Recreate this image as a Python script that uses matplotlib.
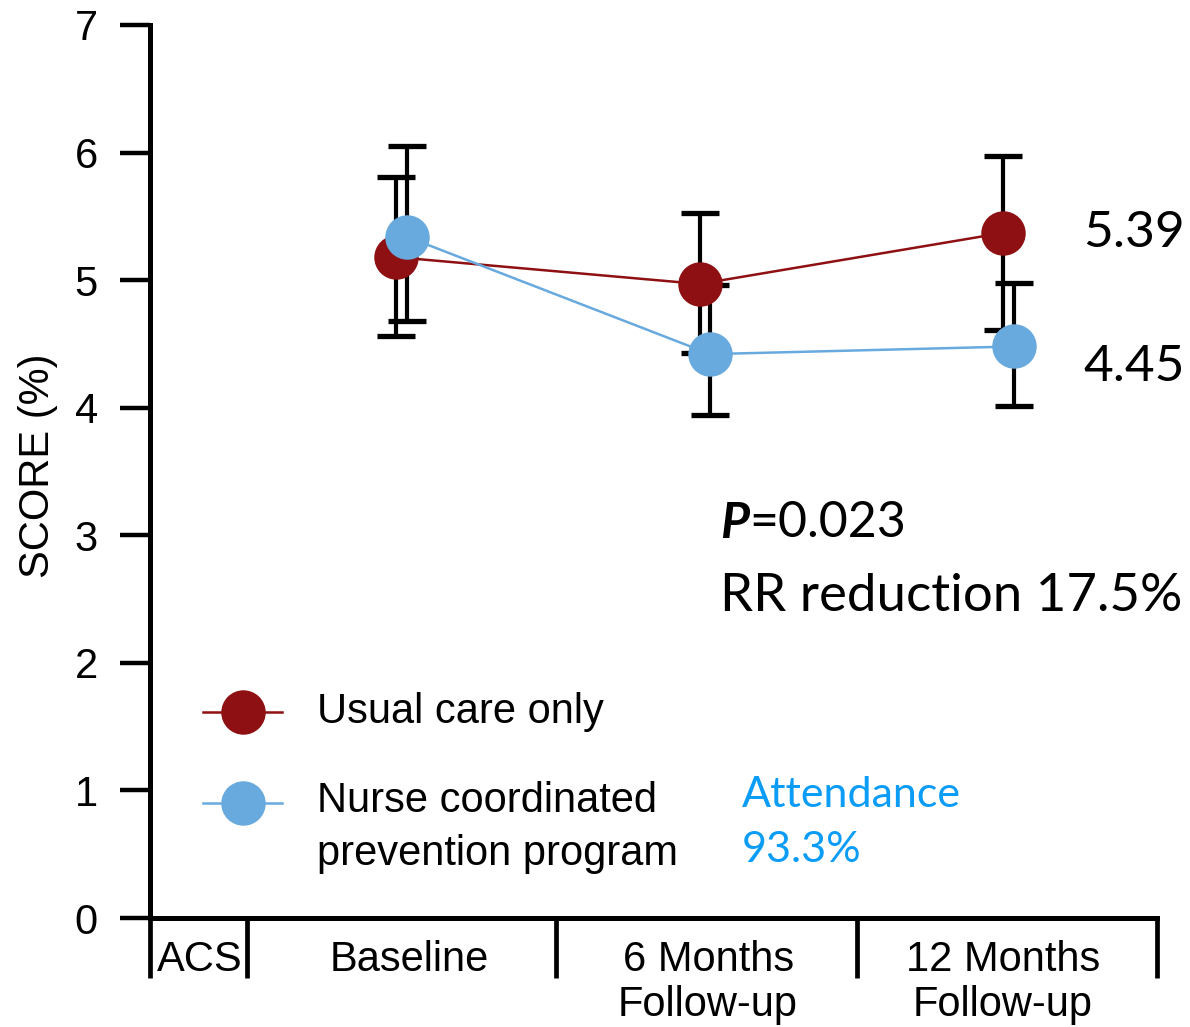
import matplotlib
matplotlib.use("Agg")
import matplotlib.pyplot as plt
import numpy as np

# ---------------- data ----------------
categories = ["ACS", "Baseline", "6 Months\nFollow-up", "12 Months\nFollow-up"]
yticks = [0, 1, 2, 3, 4, 5, 6, 7]

usual_mean = [5.18, 4.97, 5.37]
usual_upper = [5.81, 5.53, 5.97]
usual_lower = [4.56, 4.43, 4.61]

nurse_mean = [5.34, 4.42, 4.48]
nurse_upper = [6.05, 4.96, 4.98]
nurse_lower = [4.68, 3.94, 4.01]

label_usual = "Usual care only"
label_nurse_1 = "Nurse coordinated"
label_nurse_2 = "prevention program"
end_usual = "5.39"
end_nurse = "4.45"
p_text = "=0.023"
rr_text = "RR reduction 17.5%"
attendance = ["Attendance", "93.3%"]

# ---------------- style ----------------
RED = "#8E1012"
BLUE = "#68A9DE"
ATT = "#0A9CF7"
SANS = ["Liberation Sans", "DejaVu Sans"]
CAL = ["Lato", "DejaVu Sans"]

fig = plt.figure(figsize=(11.9, 10.27), dpi=100)
ax = fig.add_axes([150 / 1190, 109 / 1027, 1007 / 1190, 893 / 1027])

xc = np.array([0.5, 1.5, 2.5])
x_red = xc - 0.008
x_blue = xc + 0.027

um = np.array(usual_mean)
nm = np.array(nurse_mean)
u_err = [um - np.array(usual_lower), np.array(usual_upper) - um]
n_err = [nm - np.array(nurse_lower), np.array(nurse_upper) - nm]

ekw = dict(fmt="none", ecolor="black", elinewidth=3.0, capsize=13.5, capthick=3.8, zorder=2)
ax.errorbar(x_red, um, yerr=u_err, **ekw)
ax.errorbar(x_blue, nm, yerr=n_err, **ekw)

ax.plot(x_red, um, "-o", color=RED, lw=1.8, markersize=32, markeredgewidth=0, zorder=3)
ax.plot(x_blue, nm, "-o", color=BLUE, lw=1.8, markersize=32, markeredgewidth=0, zorder=4)

# axes
ax.set_xlim(-0.32, 3.0)
ax.set_ylim(0, 7)
for s in ["top", "right"]:
    ax.spines[s].set_visible(False)
for s in ["left", "bottom"]:
    ax.spines[s].set_linewidth(3.6)

ax.set_yticks(yticks)
ax.set_yticklabels([str(t) for t in yticks], fontsize=30, family=SANS)
ax.tick_params(axis="y", direction="out", length=21.6, width=3.2, pad=16)

ax.set_xticks([-0.32, 0, 1.02, 2.01, 3])
ax.set_xticklabels([])
ax.tick_params(axis="x", which="major", direction="out", length=43, width=3.4)
ax.set_xticks([-0.155, 0.535, 1.52, 2.492], minor=True)
ax.set_xticklabels(categories, minor=True, fontsize=30, family=SANS, linespacing=1.15)
ax.tick_params(axis="x", which="minor", length=0, pad=16)

ax.set_ylabel("SCORE (%)", fontsize=30, family=SANS)
ax.yaxis.set_label_coords(-0.091, 0.506)

# manual legend
ax.plot([-0.145, 0.115], [1.615, 1.615], color=RED, lw=1.8, clip_on=False, zorder=3)
ax.plot([-0.0134], [1.615], "o", color=RED, markersize=32, markeredgewidth=0, clip_on=False, zorder=4)
ax.plot([-0.145, 0.115], [0.901, 0.901], color=BLUE, lw=1.8, clip_on=False, zorder=3)
ax.plot([-0.0134], [0.901], "o", color=BLUE, markersize=32, markeredgewidth=0, clip_on=False, zorder=4)
ax.text(0.2306, 1.529, label_usual, fontsize=30, family=SANS, va="baseline", ha="left")
ax.text(0.2306, 0.831, label_nurse_1, fontsize=30, family=SANS, va="baseline", ha="left")
ax.text(0.2306, 0.415, label_nurse_2, fontsize=30, family=SANS, va="baseline", ha="left")

# annotations
ax.text(2.758, 5.26, end_usual, fontsize=37, family=CAL, va="baseline", ha="left")
ax.text(2.758, 4.21, end_nurse, fontsize=37, family=CAL, va="baseline", ha="left")
pt = ax.text(1.559, 2.98, "P", fontsize=36, family=CAL, weight="bold", style="italic",
             va="baseline", ha="left")
ax.annotate(p_text, xy=(1, 0), xycoords=pt, fontsize=36, family=CAL, va="bottom", ha="left")
ax.text(1.559, 2.41, rr_text, fontsize=38, family=CAL, va="baseline", ha="left")
ax.text(1.632, 0.87, attendance[0], fontsize=31, family=CAL, color=ATT, va="baseline", ha="left")
ax.text(1.632, 0.44, attendance[1], fontsize=31, family=CAL, color=ATT, va="baseline", ha="left")

fig.savefig("out.png", dpi=100)
